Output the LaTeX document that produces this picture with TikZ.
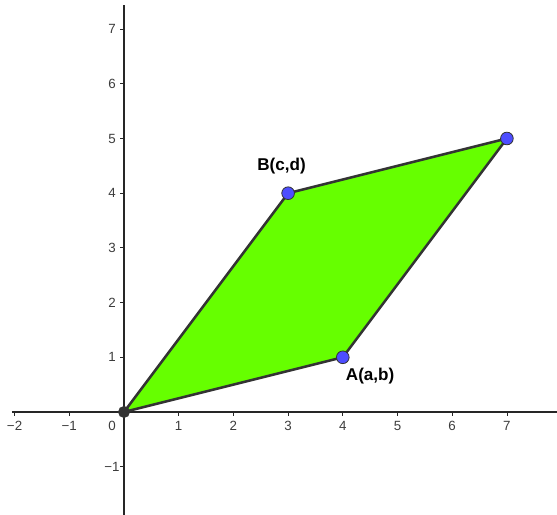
\documentclass[tikz,border=0pt]{standalone}
\usepackage{fontspec}
\setmainfont{Liberation Sans}
\usetikzlibrary{positioning}
\definecolor{ShapeGreen}{RGB}{102,255,0}
\definecolor{EdgeGrey}{RGB}{51,51,51}
\definecolor{PointBlue}{RGB}{77,77,255}
\definecolor{TickGrey}{RGB}{60,60,60}

\tikzset{
    axisline/.style={draw=black!85, line width=0.9pt},
    ticklabel/.style={text=TickGrey, font=\fontsize{10}{11}\selectfont, inner sep=0pt},
    ptlabel/.style={font=\fontsize{12.8}{14}\selectfont\bfseries, inner sep=0pt},
    bluedot/.style={circle, fill=PointBlue, draw=EdgeGrey, line width=0.6pt, minimum size=9.5pt, inner sep=0pt},
    greydot/.style={circle, fill=EdgeGrey, draw=EdgeGrey, minimum size=8.5pt, inner sep=0pt}
}

\begin{document}
\begin{tikzpicture}[x=41pt, y=41pt]
    % Frame of the picture
    \useasboundingbox (-2.267,-1.883) rectangle (7.916,7.532);

    % Axes
    \draw[axisline] (-2.05,0) -- (7.92,0);
    \draw[axisline] (0,-1.88) -- (0,7.44);

    % Ticks and labels on the x axis
    \foreach \x in {-2,-1,1,2,3,4,5,6,7} {
        \draw[axisline, line width=0.6pt] (\x,0) -- (\x,-0.07);
        \node[ticklabel] (xl\x) at (\x,-0.25) {\ifnum\x<0 −\the\numexpr-\x\relax\else\x\fi};
    }
    \node[ticklabel] (zero) at (-0.22,-0.25) {0};

    % Ticks and labels on the y axis
    \foreach \y in {-1,1,2,3,4,5,6,7} {
        \draw[axisline, line width=0.6pt] (0,\y) -- (-0.07,\y);
        \node[ticklabel] (yl\y) at (-0.22,\y) {\ifnum\y<0 −\the\numexpr-\y\relax\else\y\fi};
    }

    % Corners of the parallelogram
    \coordinate (O) at (0,0);
    \coordinate (A) at (4,1);
    \coordinate (B) at (3,4);
    \coordinate (C) at (7,5);

    % Parallelogram
    \filldraw[fill=ShapeGreen, draw=EdgeGrey, line width=1.9pt, line join=round]
        (O) -- (A) -- (C) -- (B) -- cycle;

    % Points
    \node[greydot] (pO) at (O) {};
    \node[bluedot] (pA) at (A) {};
    \node[bluedot] (pB) at (B) {};
    \node[bluedot] (pC) at (C) {};

    % Labels
    \node[ptlabel] (labA) at (4.50,0.66) {A(a,b)};
    \node[ptlabel] (labB) at (2.88,4.50) {B(c,d)};
\end{tikzpicture}
\end{document}
